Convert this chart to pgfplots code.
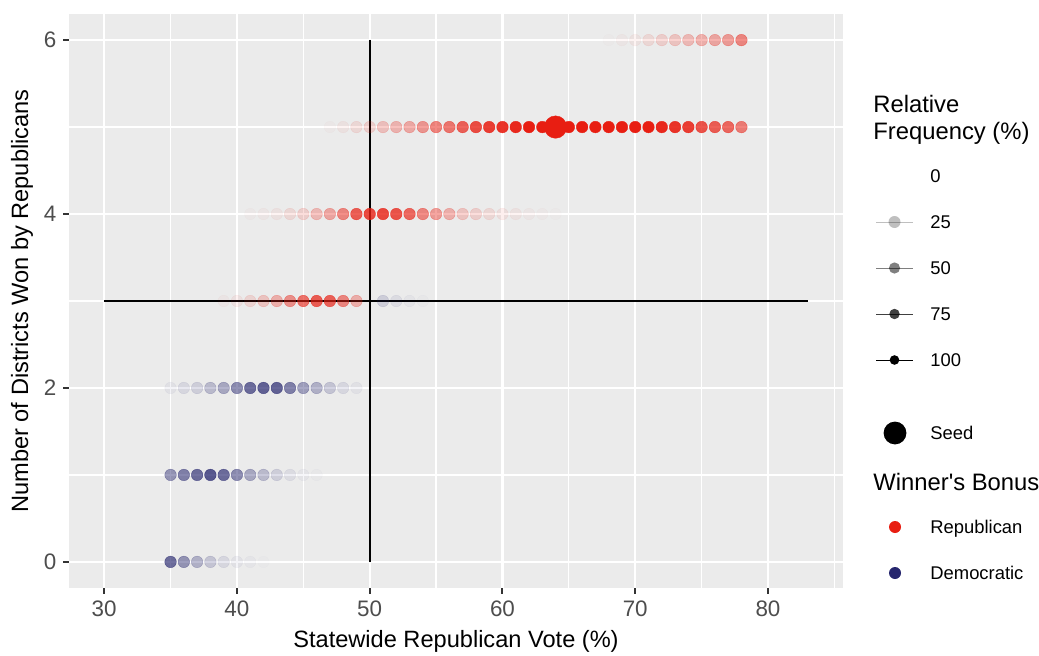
\documentclass[border=0pt]{standalone}
\usepackage{fontspec}
\setmainfont{Liberation Sans}
\usepackage{pgfplots}
\pgfplotsset{compat=1.18}
\usepackage{pgfplotstable}
\definecolor{repred}{RGB}{232,30,18}
\definecolor{demblue}{RGB}{38,38,110}
\definecolor{panelbg}{RGB}{235,235,235}
\definecolor{ticklab}{RGB}{77,77,77}
\definecolor{tickcol}{RGB}{51,51,51}

\pgfplotstableread{
x y a
68 6 0.01
69 6 0.03
70 6 0.05
71 6 0.10
72 6 0.15
73 6 0.20
74 6 0.25
75 6 0.30
76 6 0.35
77 6 0.40
78 6 0.50
47 5 0.02
48 5 0.05
49 5 0.10
50 5 0.15
51 5 0.22
52 5 0.28
53 5 0.33
54 5 0.42
55 5 0.52
56 5 0.58
57 5 0.68
58 5 0.78
59 5 0.85
60 5 0.90
61 5 0.95
62 5 1.00
63 5 1.00
64 5 1.00
65 5 1.00
66 5 1.00
67 5 1.00
68 5 1.00
69 5 1.00
70 5 1.00
71 5 1.00
72 5 0.95
73 5 0.90
74 5 0.85
75 5 0.75
76 5 0.70
77 5 0.65
78 5 0.55
41 4 0.02
42 4 0.03
43 4 0.05
44 4 0.10
45 4 0.15
46 4 0.25
47 4 0.35
48 4 0.50
49 4 0.70
50 4 0.80
51 4 0.80
52 4 0.75
53 4 0.65
54 4 0.50
55 4 0.40
56 4 0.30
57 4 0.20
58 4 0.15
59 4 0.10
60 4 0.07
61 4 0.05
62 4 0.03
63 4 0.02
64 4 0.01
39 3 0.03
40 3 0.06
41 3 0.12
42 3 0.20
43 3 0.30
44 3 0.45
45 3 0.60
46 3 0.70
47 3 0.68
48 3 0.50
49 3 0.30
}\repdata

\pgfplotstableread{
x y a
51 3 0.15
52 3 0.08
53 3 0.04
54 3 0.02
35 2 0.05
36 2 0.10
37 2 0.15
38 2 0.25
39 2 0.35
40 2 0.50
41 2 0.65
42 2 0.70
43 2 0.70
44 2 0.55
45 2 0.40
46 2 0.30
47 2 0.20
48 2 0.10
49 2 0.05
35 1 0.45
36 1 0.55
37 1 0.65
38 1 0.75
39 1 0.65
40 1 0.50
41 1 0.35
42 1 0.25
43 1 0.15
44 1 0.08
45 1 0.04
46 1 0.02
35 0 0.65
36 0 0.45
37 0 0.30
38 0 0.20
39 0 0.10
40 0 0.05
41 0 0.03
42 0 0.01
}\demdata

\begin{document}
\begin{tikzpicture}
\useasboundingbox (0,0) rectangle (519.5pt,327.5pt);
\begin{axis}[
  at={(34.5pt,33.5pt)}, anchor=south west,
  scale only axis, width=387pt, height=287pt,
  xmin=27.35, xmax=85.65, ymin=-0.3, ymax=6.3,
  axis background/.style={fill=panelbg},
  axis line style={draw=none},
  xtick={30,40,...,80}, ytick={0,2,4,6},
  minor xtick={25,35,...,85}, minor ytick={1,3,5},
  grid=both,
  major grid style={white, line width=1.2pt},
  minor grid style={white, line width=0.6pt},
  tick align=outside, tick pos=left,
  major tick length=2.8pt, minor tick length=0pt,
  every tick/.append style={tickcol, line width=1pt},
  tick label style={font=\fontsize{11.2}{13}\selectfont, text=ticklab},
  /pgf/number format/assume math mode=true,
  xlabel={Statewide Republican Vote (\%)},
  ylabel={Number of Districts Won by Republicans},
  label style={font=\fontsize{11.8}{14}\selectfont},
  xlabel style={at={(axis description cs:0.5,-0.0923)}, anchor=center},
  ylabel style={at={(axis description cs:-0.0607,0.5)}, anchor=center},
]
\addplot[scatter, only marks, mark=*, mark size=2.9pt,
  point meta=\thisrow{a},
  visualization depends on={\thisrow{a} \as \myop},
  scatter/@pre marker code/.code={\scope[opacity=\myop, draw=repred, fill=repred, line width=0.2pt]},
  scatter/@post marker code/.code={\endscope}]
  table[x=x, y=y] {\repdata};
\addplot[scatter, only marks, mark=*, mark size=2.9pt,
  point meta=\thisrow{a},
  visualization depends on={\thisrow{a} \as \myop},
  scatter/@pre marker code/.code={\scope[opacity=\myop, draw=demblue, fill=demblue, line width=0.2pt]},
  scatter/@post marker code/.code={\endscope}]
  table[x=x, y=y] {\demdata};
\addplot[black, line width=0.9pt] coordinates {(50,0) (50,6)};
\addplot[black, line width=0.9pt] coordinates {(30,3) (83,3)};
\addplot[only marks, mark=*, mark size=5.6pt, color=repred, mark options={draw=repred, fill=repred, line width=0.2pt}] coordinates {(64,5)};
\end{axis}

% legend
\begin{scope}[font=\fontsize{9.2}{11}\selectfont]
\node[anchor=base west, inner sep=0pt, font=\fontsize{11.9}{14}\selectfont] at (436.5pt,271pt) {Relative};
\node[anchor=base west, inner sep=0pt, font=\fontsize{11.9}{14}\selectfont] at (436.5pt,258pt) {Frequency (\%)};
\foreach \yy/\lab/\op/\r in {239.5/0/0/3.2, 216.5/25/0.25/3.0, 193.5/50/0.5/2.8, 170.5/75/0.75/2.6, 147.5/100/1/2.4} {
  \draw[black, opacity=\op, line width=0.5pt] (438pt,\yy pt) -- (456.5pt,\yy pt);
  \fill[black, opacity=\op] (447.25pt,\yy pt) circle (\r pt);
  \node[anchor=base west, inner sep=0pt] at (465pt,\yy pt-3.3pt) {\lab};
}
\fill[black] (447.5pt,111pt) circle (5.7pt);
\node[anchor=base west, inner sep=0pt] at (465pt,107.7pt) {Seed};
\node[anchor=base west, inner sep=0pt, font=\fontsize{11.9}{14}\selectfont] at (436.5pt,82.5pt) {Winner\textquotesingle s Bonus};
\fill[repred] (447.5pt,64pt) circle (3pt);
\node[anchor=base west, inner sep=0pt] at (465pt,60.7pt) {Republican};
\fill[demblue] (447.5pt,41pt) circle (3pt);
\node[anchor=base west, inner sep=0pt] at (465pt,37.7pt) {Democratic};
\end{scope}
\end{tikzpicture}
\end{document}
